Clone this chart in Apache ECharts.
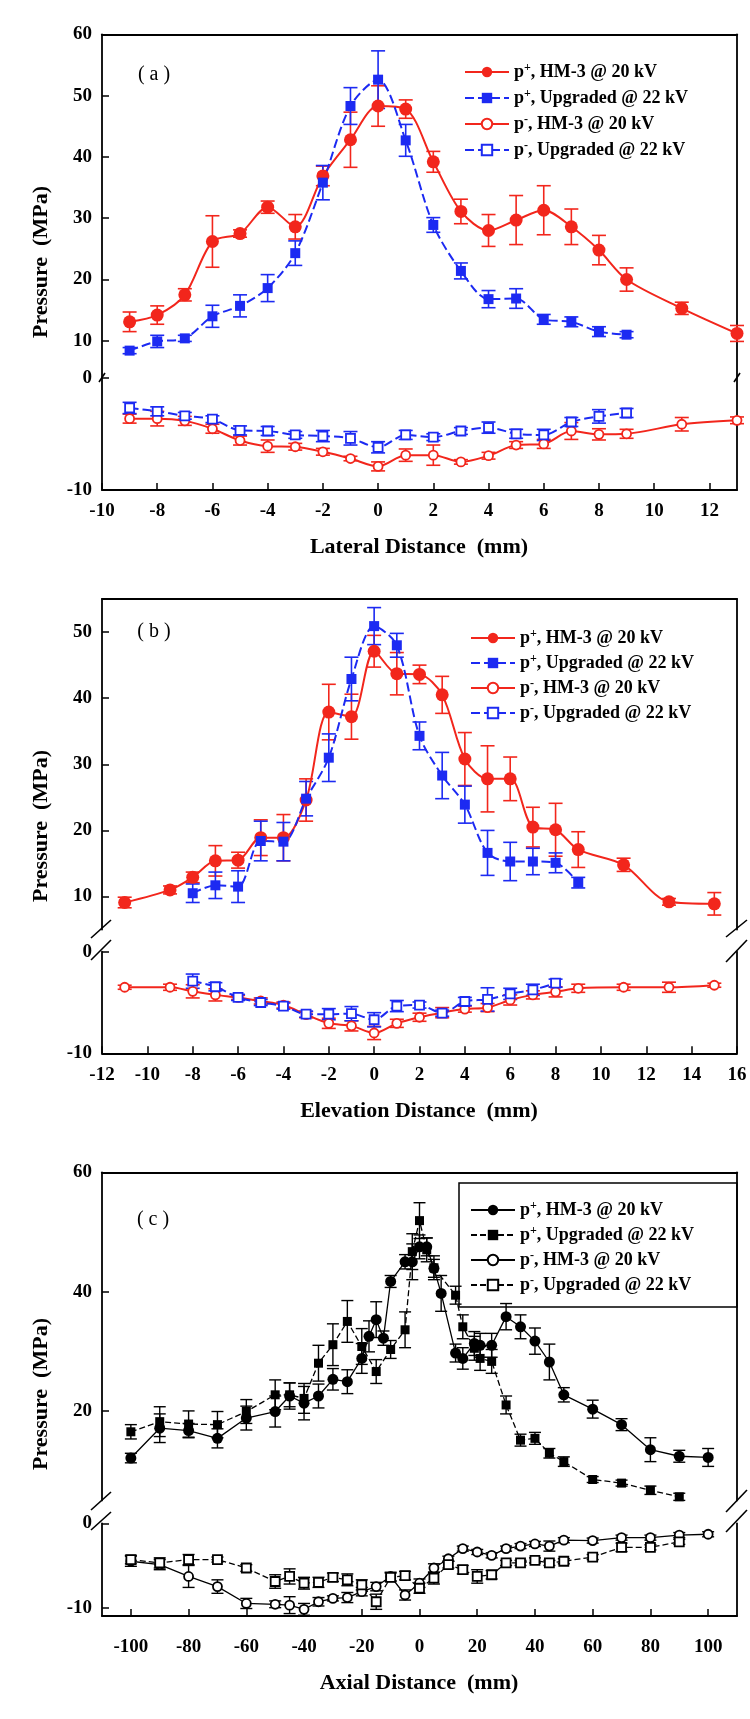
<!DOCTYPE html>
<html>
<head>
<meta charset="utf-8">
<script src="https://cdn.jsdelivr.net/npm/echarts@6/dist/echarts.min.js"></script>
<style>
  html, body { margin: 0; padding: 0; background: #fff; }
  #chart { width: 750px; height: 1719px; }
</style>
</head>
<body>
<div id="chart"></div>
<script>
// ---- (a) lateral ----
var latHmX = [-9, -8, -7, -6, -5, -4, -3, -2, -1, 0, 1, 2, 3, 4, 5, 6, 7, 8, 9, 11, 13];
var latHmPos = [13.1, 14.2, 17.5, 26.2, 27.5, 31.8, 28.6, 36.9, 42.8, 48.3, 47.8, 39.2, 31.1, 28.0, 29.7, 31.3, 28.6, 24.8, 20.0, 15.3, 11.2];
var latHmPosErr = [1.6, 1.5, 1.0, 4.2, 0.6, 1.0, 2.0, 1.6, 4.5, 3.3, 1.5, 1.7, 2.0, 2.6, 4.0, 4.0, 2.9, 2.4, 1.9, 1.0, 1.3];
var latHmNeg = [-3.65, -3.65, -3.85, -4.55, -5.6, -6.1, -6.15, -6.6, -7.2, -7.9, -6.9, -6.9, -7.5, -6.95, -6.0, -5.9, -4.75, -5.05, -5.0, -4.15, -3.8];
var latHmNegErr = [0.4, 0.65, 0.4, 0.4, 0.4, 0.55, 0.3, 0.3, 0.2, 0.4, 0.55, 0.9, 0.2, 0.3, 0.3, 0.4, 0.75, 0.5, 0.4, 0.6, 0.3];
var latUpX = [-9, -8, -7, -6, -5, -4, -3, -2, -1, 0, 1, 2, 3, 4, 5, 6, 7, 8, 9];
var latUpPos = [8.4, 9.9, 10.4, 14.0, 15.7, 18.6, 24.3, 35.8, 48.3, 52.6, 42.7, 28.9, 21.4, 16.8, 16.9, 13.5, 13.1, 11.5, 11.0];
var latUpPosErr = [0.5, 1.0, 0.5, 1.8, 1.8, 2.2, 2.0, 2.8, 3.0, 4.7, 2.6, 1.2, 1.3, 1.4, 1.6, 0.8, 0.8, 0.8, 0.5];
var latUpNeg = [-2.7, -3.0, -3.4, -3.7, -4.7, -4.75, -5.1, -5.2, -5.4, -6.2, -5.1, -5.3, -4.75, -4.45, -5.0, -5.1, -3.95, -3.45, -3.15];
var latUpNegErr = [0.5, 0.4, 0.3, 0.3, 0.4, 0.4, 0.3, 0.5, 0.6, 0.5, 0.4, 0.3, 0.3, 0.5, 0.4, 0.5, 0.4, 0.6, 0.4];

// ---- (b) elevation ----
var eleHmX = [-11, -9, -8, -7, -6, -5, -4, -3, -2, -1, 0, 1, 2, 3, 4, 5, 6, 7, 8, 9, 11, 13, 15];
var eleHmPos = [9.1, 11.0, 12.9, 15.4, 15.5, 18.9, 18.9, 24.6, 37.9, 37.2, 47.1, 43.7, 43.6, 40.5, 30.8, 27.8, 27.8, 20.5, 20.1, 17.1, 14.8, 9.2, 8.9];
var eleHmPosErr = [0.8, 0.6, 0.8, 2.3, 1.2, 2.7, 3.5, 3.2, 4.2, 3.4, 2.4, 3.2, 1.4, 2.8, 4.0, 5.0, 3.3, 3.0, 4.0, 2.7, 1.0, 0.5, 1.7];
var eleHmNeg = [-3.5, -3.5, -3.9, -4.25, -4.5, -4.85, -5.25, -6.2, -7.05, -7.3, -8.0, -7.05, -6.45, -6.0, -5.65, -5.5, -4.75, -4.25, -3.95, -3.6, -3.5, -3.5, -3.3];
var eleHmNegErr = [0.2, 0.3, 0.65, 0.6, 0.2, 0.3, 0.3, 0.3, 0.5, 0.5, 0.65, 0.4, 0.4, 0.5, 0.3, 0.4, 0.5, 0.4, 0.5, 0.4, 0.3, 0.5, 0.2];
var eleUpPosX = [-8, -7, -6, -5, -4, -3, -2, -1, 0, 1, 2, 3, 4, 5, 6, 7, 8, 9];
var eleUpPos = [10.5, 11.7, 11.5, 18.4, 18.3, 24.8, 31.0, 42.9, 50.9, 48.0, 34.3, 28.3, 23.9, 16.6, 15.3, 15.3, 15.1, 12.1];
var eleUpPosErr = [1.4, 2.0, 2.4, 3.0, 2.9, 2.6, 3.6, 3.3, 2.8, 1.8, 2.1, 3.5, 2.8, 3.4, 2.9, 2.0, 1.5, 0.8];
var eleUpNegX = [-8, -7, -6, -5, -4, -3, -2, -1, 0, 1, 2, 3, 4, 5, 6, 7, 8];
var eleUpNeg = [-2.9, -3.45, -4.5, -5.0, -5.35, -6.15, -6.15, -6.1, -6.7, -5.35, -5.25, -6.05, -4.9, -4.7, -4.15, -3.75, -3.1];
var eleUpNegErr = [0.7, 0.4, 0.3, 0.3, 0.3, 0.3, 0.55, 0.7, 0.7, 0.55, 0.3, 0.3, 0.4, 1.15, 0.55, 0.55, 0.4];

// ---- (c) axial ----
var axHmPosX = [-100, -90, -80, -70, -60, -50, -45, -40, -35, -30, -25, -20, -17.5, -15, -12.5, -10, -5, -2.5, 0, 2.5, 5, 7.5, 12.5, 15, 19, 21, 25, 30, 35, 40, 45, 50, 60, 70, 80, 90, 100];
var axHmPos = [12.1, 17.1, 16.7, 15.4, 18.8, 19.9, 22.5, 21.3, 22.5, 25.3, 24.9, 28.8, 32.5, 35.3, 32.2, 41.7, 45.0, 45.0, 47.5, 47.5, 43.9, 39.7, 29.7, 28.8, 31.3, 31.0, 31.0, 35.8, 34.1, 31.7, 28.2, 22.7, 20.3, 17.7, 13.5, 12.4, 12.2];
var axHmPosErr = [0.8, 2.4, 1.2, 1.6, 2.0, 2.6, 2.2, 2.8, 2.0, 1.8, 2.0, 2.5, 2.6, 3.0, 1.2, 1.0, 1.2, 3.0, 2.0, 1.5, 1.5, 3.0, 1.5, 1.8, 2.0, 2.0, 2.0, 2.2, 2.0, 2.2, 3.0, 1.2, 1.5, 1.0, 2.0, 1.0, 1.5];
var axUpPosX = [-100, -90, -80, -70, -60, -50, -45, -40, -35, -30, -25, -20, -15, -10, -5, -2.5, 0, 2.5, 5, 12.5, 15, 19, 21, 25, 30, 35, 40, 45, 50, 60, 70, 80, 90];
var axUpPos = [16.5, 18.2, 17.8, 17.7, 19.9, 22.7, 22.7, 22.1, 28.0, 31.1, 35.0, 30.8, 26.6, 30.3, 33.6, 46.7, 51.9, 47.0, 44.0, 39.4, 34.1, 30.5, 28.8, 28.3, 21.0, 15.1, 15.4, 12.9, 11.5, 8.5, 7.9, 6.7, 5.6];
var axUpPosErr = [1.2, 2.5, 2.2, 2.2, 2.0, 2.5, 2.0, 2.5, 3.0, 3.5, 3.5, 3.0, 2.0, 1.5, 3.0, 3.0, 3.0, 2.0, 2.0, 1.5, 2.0, 2.0, 2.0, 2.0, 1.5, 1.0, 1.0, 0.8, 0.8, 0.5, 0.5, 0.7, 0.6];
var axHmNegX = [-100, -90, -80, -70, -60, -50, -45, -40, -35, -30, -25, -20, -15, -10, -5, 0, 5, 10, 15, 20, 25, 30, 35, 40, 45, 50, 60, 70, 80, 90, 100];
var axHmNeg = [-4.5, -4.9, -6.3, -7.5, -9.5, -9.6, -9.7, -10.2, -9.3, -8.9, -8.8, -8.1, -7.5, -6.3, -8.5, -7.1, -5.3, -4.2, -3.0, -3.4, -3.8, -3.0, -2.7, -2.45, -2.7, -2.0, -2.05, -1.7, -1.7, -1.4, -1.3];
var axHmNegErr = [0.6, 0.6, 1.3, 0.8, 0.6, 0.4, 1.0, 0.7, 0.5, 0.3, 0.6, 0.5, 0.5, 0.5, 0.6, 0.5, 0.5, 0.3, 0.3, 0.3, 0.3, 0.3, 0.3, 0.3, 0.6, 0.3, 0.3, 0.3, 0.3, 0.3, 0.3];
var axUpNegX = [-100, -90, -80, -70, -60, -50, -45, -40, -35, -30, -25, -20, -15, -10, -5, 0, 5, 10, 15, 20, 25, 30, 35, 40, 45, 50, 60, 70, 80, 90];
var axUpNeg = [-4.3, -4.7, -4.3, -4.3, -5.3, -6.9, -6.3, -7.1, -7.0, -6.4, -6.7, -7.3, -9.3, -6.4, -6.2, -7.7, -6.5, -4.9, -5.5, -6.3, -6.1, -4.7, -4.7, -4.4, -4.7, -4.5, -4.0, -2.85, -2.85, -2.2];
var axUpNegErr = [0.5, 0.6, 0.6, 0.3, 0.4, 0.8, 0.9, 0.7, 0.6, 0.5, 0.7, 0.6, 0.9, 0.5, 0.5, 0.6, 0.7, 0.4, 0.5, 0.8, 0.5, 0.3, 0.3, 0.3, 0.3, 0.3, 0.3, 0.5, 0.3, 0.3];

var legendText = [
  '{t|p}{s|+}{t|, HM-3 @ 20 kV}',
  '{t|p}{s|+}{t|, Upgraded @ 22 kV}',
  '{t|p}{s|-}{t|, HM-3 @ 20 kV}',
  '{t|p}{s|-}{t|, Upgraded @ 22 kV}'
];

var RED = '#f2261c', BLUE = '#1c2af2', BLACK = '#000';
var FONT = 'Liberation Serif';

function pts(xs, ys) {
  return xs.map(function (x, i) { return [x, ys[i]]; });
}
function bars(xs, ys, es) {
  return xs.map(function (x, i) { return [x, ys[i] - es[i], ys[i] + es[i]]; });
}

function lineSeries(name, ax, data, o) {
  return {
    name: name, type: 'line', xAxisIndex: ax, yAxisIndex: ax * 2, data: data,
    smooth: o.smooth, symbol: o.symbol, symbolSize: o.size, z: 5,
    lineStyle: { color: o.color, width: o.width, type: o.dash || 'solid' },
    itemStyle: { color: o.open ? '#fff' : o.color, borderColor: o.color, borderWidth: o.open ? 1.8 : 0 },
    emphasis: { disabled: true }
  };
}

function errSeries(ax, data, color, cap, lw) {
  return {
    type: 'custom', xAxisIndex: ax, yAxisIndex: ax * 2, data: data, z: 3, silent: true,
    encode: { x: 0, y: [1, 2] },
    renderItem: function (params, api) {
      var top = api.coord([api.value(0), api.value(2)]);
      var bot = api.coord([api.value(0), api.value(1)]);
      var st = { stroke: color, lineWidth: lw };
      return { type: 'group', children: [
        { type: 'line', shape: { x1: top[0], y1: top[1], x2: bot[0], y2: bot[1] }, style: st },
        { type: 'line', shape: { x1: top[0] - cap, y1: top[1], x2: top[0] + cap, y2: top[1] }, style: st },
        { type: 'line', shape: { x1: bot[0] - cap, y1: bot[1], x2: bot[0] + cap, y2: bot[1] }, style: st }
      ] };
    }
  };
}

// grids: upper / lower part of each panel (broken y axis)
var L = 102, W = 635;
var grids = [
  { left: L, width: W, top: 34.3, height: 343.3 },
  { left: L, width: W, top: 377.6, height: 112.4 },
  { left: L, width: W, top: 599, height: 330.6 },
  { left: L, width: W, top: 951.7, height: 101.6 },
  { left: L, width: W, top: 1172.3, height: 328.1 },
  { left: L, width: W, top: 1523.3, height: 92.8 }
];
var xRange = [[-10, 13], [-12, 16], [-110, 110]];
var xTicks = [
  [-10, -8, -6, -4, -2, 0, 2, 4, 6, 8, 10, 12],
  [-12, -10, -8, -6, -4, -2, 0, 2, 4, 6, 8, 10, 12, 14, 16],
  [-100, -80, -60, -40, -20, 0, 20, 40, 60, 80, 100]
];
var yRange = [[4, 60], [-10, 0], [5, 55], [-10, 0], [5, 60], [-11, 0]];
var yTicks = [[10, 20, 30, 40, 50, 60], [-10, 0], [10, 20, 30, 40, 50], [-10, 0], [20, 40, 60], [-10, 0]];
var xLabelMargin = [12, 12, 21];

var axisLine = { show: true, onZero: false, lineStyle: { color: '#000', width: 1.8 } };
var labelStyle = { fontFamily: FONT, fontWeight: 'bold', fontSize: 19, color: '#000' };

var xAxes = [], yAxes = [];
grids.forEach(function (g, gi) {
  var p = Math.floor(gi / 2), lower = gi % 2 === 1;
  xAxes.push({
    type: 'value', gridIndex: gi, min: xRange[p][0], max: xRange[p][1],
    position: lower ? 'bottom' : 'top',
    axisLine: axisLine, splitLine: { show: false },
    axisTick: { show: lower, inside: true, length: 7, customValues: xTicks[p], lineStyle: { width: 1.5 } },
    axisLabel: lower ? Object.assign({ show: true, margin: xLabelMargin[p], customValues: xTicks[p] }, labelStyle) : { show: false }
  });
  yAxes.push({
    type: 'value', gridIndex: gi, min: yRange[gi][0], max: yRange[gi][1], position: 'left',
    axisLine: axisLine, splitLine: { show: false },
    axisTick: { show: true, inside: true, length: 7, customValues: yTicks[gi], lineStyle: { width: 1.5 } },
    axisLabel: Object.assign({ show: true, margin: 10, customValues: yTicks[gi] }, labelStyle)
  });
  yAxes.push({
    type: 'value', gridIndex: gi, min: yRange[gi][0], max: yRange[gi][1], position: 'right',
    axisLine: axisLine, splitLine: { show: false }, axisTick: { show: false }, axisLabel: { show: false }
  });
});

var series = [];
function panel(prefix, up, lo, colHm, colUp, s) {
  series.push(lineSeries(prefix + '0', up, pts(s.hmPosX, s.hmPos), { color: colHm, width: s.lw, smooth: s.smooth, symbol: 'circle', size: s.cSize }));
  series.push(lineSeries(prefix + '1', up, pts(s.upPosX, s.upPos), { color: colUp, width: s.lw, smooth: s.smooth, symbol: 'rect', size: s.sSize, dash: s.dash }));
  series.push(lineSeries(prefix + '2', lo, pts(s.hmNegX, s.hmNeg), { color: colHm, width: s.lw, smooth: s.smooth, symbol: 'circle', size: s.oSize, open: true }));
  series.push(lineSeries(prefix + '3', lo, pts(s.upNegX, s.upNeg), { color: colUp, width: s.lw, smooth: s.smooth, symbol: 'rect', size: s.oSize, open: true, dash: s.dash }));
  series.push(errSeries(up, bars(s.hmPosX, s.hmPos, s.hmPosErr), colHm, s.cap, s.elw));
  series.push(errSeries(up, bars(s.upPosX, s.upPos, s.upPosErr), colUp, s.cap, s.elw));
  series.push(errSeries(lo, bars(s.hmNegX, s.hmNeg, s.hmNegErr), colHm, s.cap, s.elw));
  series.push(errSeries(lo, bars(s.upNegX, s.upNeg, s.upNegErr), colUp, s.cap, s.elw));
}

panel('a', 0, 1, RED, BLUE, {
  hmPosX: latHmX, hmPos: latHmPos, hmPosErr: latHmPosErr,
  upPosX: latUpX, upPos: latUpPos, upPosErr: latUpPosErr,
  hmNegX: latHmX, hmNeg: latHmNeg, hmNegErr: latHmNegErr,
  upNegX: latUpX, upNeg: latUpNeg, upNegErr: latUpNegErr,
  lw: 2, smooth: 0.3, cSize: 13, sSize: 10, oSize: 9, dash: [9, 4], cap: 7, elw: 1.6
});
panel('b', 2, 3, RED, BLUE, {
  hmPosX: eleHmX, hmPos: eleHmPos, hmPosErr: eleHmPosErr,
  upPosX: eleUpPosX, upPos: eleUpPos, upPosErr: eleUpPosErr,
  hmNegX: eleHmX, hmNeg: eleHmNeg, hmNegErr: eleHmNegErr,
  upNegX: eleUpNegX, upNeg: eleUpNeg, upNegErr: eleUpNegErr,
  lw: 2, smooth: 0.3, cSize: 13, sSize: 10, oSize: 9, dash: [9, 4], cap: 7, elw: 1.6
});
panel('c', 4, 5, BLACK, BLACK, {
  hmPosX: axHmPosX, hmPos: axHmPos, hmPosErr: axHmPosErr,
  upPosX: axUpPosX, upPos: axUpPos, upPosErr: axUpPosErr,
  hmNegX: axHmNegX, hmNeg: axHmNeg, hmNegErr: axHmNegErr,
  upNegX: axUpNegX, upNeg: axUpNeg, upNegErr: axUpNegErr,
  lw: 1.3, smooth: false, cSize: 11, sSize: 9, oSize: 9, dash: [6, 3], cap: 6, elw: 1.4
});

function legendFor(prefix, left, top, gap) {
  return {
    data: [prefix + '0', prefix + '1', prefix + '2', prefix + '3'],
    orient: 'vertical', left: left, top: top, padding: 0,
    itemWidth: 44, itemHeight: 13, itemGap: gap, selectedMode: false,
    formatter: function (name) { return legendText[+name.charAt(1)]; },
    textStyle: {
      rich: {
        t: { fontFamily: FONT, fontWeight: 'bold', fontSize: 18, lineHeight: 20, color: '#000' },
        s: { fontFamily: FONT, fontWeight: 'bold', fontSize: 12, lineHeight: 9, verticalAlign: 'top', color: '#000' }
      }
    }
  };
}

function txt(x, y, s, font, rot) {
  return {
    type: 'text', x: x, y: y, rotation: rot || 0, silent: true,
    style: { text: s, font: font, fill: '#000', textAlign: 'center', textVerticalAlign: 'middle' }
  };
}
function seg(x1, y1, x2, y2, w) {
  return { type: 'line', silent: true, shape: { x1: x1, y1: y1, x2: x2, y2: y2 }, style: { stroke: '#000', lineWidth: w || 1.6 } };
}

var TITLE = 'bold 22px "Liberation Serif"';
var TAG = '20px "Liberation Serif"';
var graphics = [
  txt(154, 75, '( a )', TAG),
  txt(154, 632, '( b )', TAG),
  txt(153, 1220, '( c )', TAG),
  txt(41, 262, 'Pressure  (MPa)', TITLE, Math.PI / 2),
  txt(41, 826, 'Pressure  (MPa)', TITLE, Math.PI / 2),
  txt(41, 1394, 'Pressure  (MPa)', TITLE, Math.PI / 2),
  txt(419, 547, 'Lateral Distance  (mm)', TITLE),
  txt(419, 1111, 'Elevation Distance  (mm)', TITLE),
  txt(419, 1683, 'Axial Distance  (mm)', TITLE),
  // legend frame of panel (c)
  { type: 'rect', silent: true, shape: { x: 459, y: 1183, width: 278, height: 124 }, style: { fill: 'none', stroke: '#000', lineWidth: 1.5 } },
  // axis break marks
  seg(99, 382, 105, 373), seg(734, 382, 740, 373),
  seg(91, 938, 111, 920), seg(91, 960, 111, 940),
  seg(726, 937, 747, 920), seg(726, 962, 747, 940),
  seg(91, 1510, 111, 1492), seg(91, 1530, 111, 1512),
  seg(726, 1512, 747, 1490), seg(726, 1532, 747, 1510)
];

var chart = echarts.init(document.getElementById('chart'));
chart.setOption({
  backgroundColor: '#fff',
  animation: false,
  grid: grids,
  xAxis: xAxes,
  yAxis: yAxes,
  legend: [legendFor('a', 464, 62, 7), legendFor('b', 470, 628, 6), legendFor('c', 470, 1200, 6)],
  series: series,
  graphic: graphics
});
</script>
</body>
</html>
